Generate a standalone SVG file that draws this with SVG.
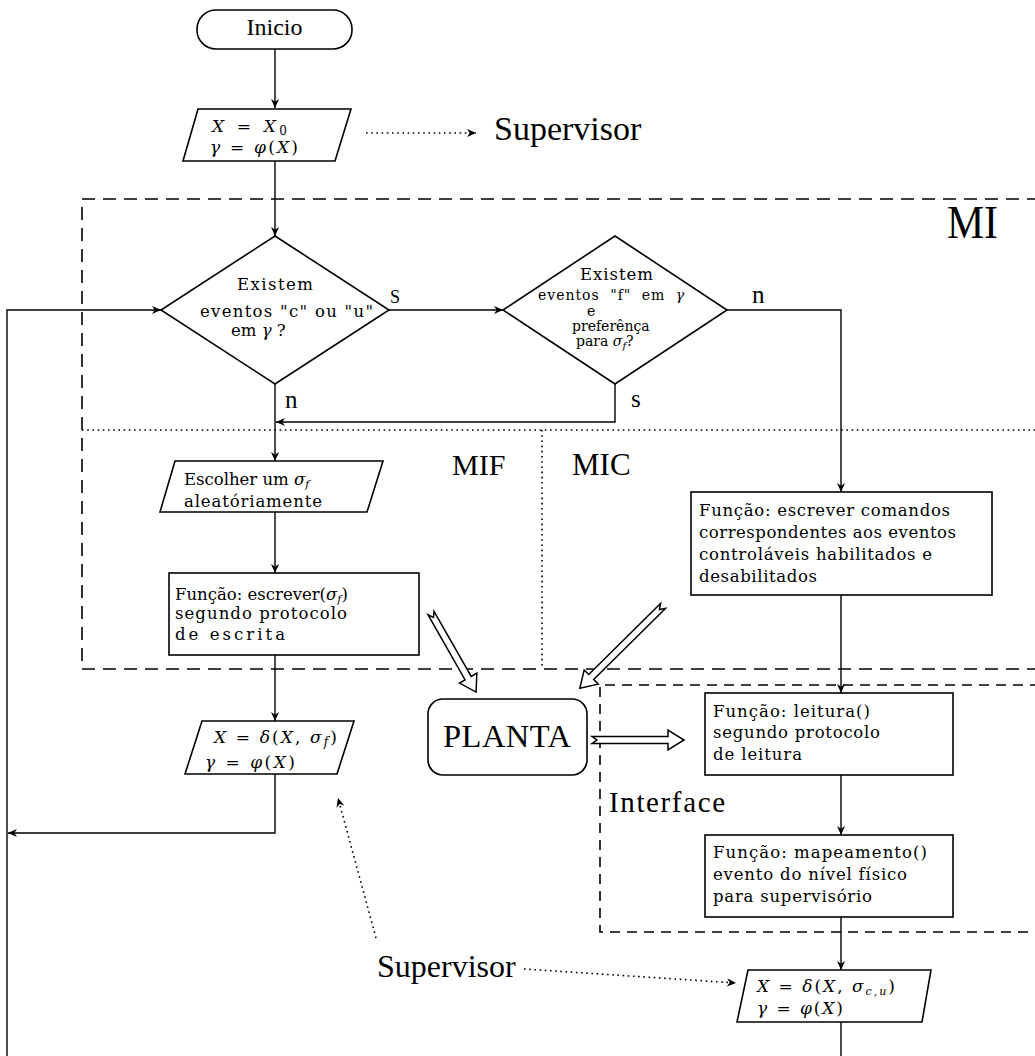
<svg xmlns="http://www.w3.org/2000/svg" width="1035" height="1056" viewBox="0 0 1035 1056">
<style>
.box{fill:#fff;stroke:#000;stroke-width:1.6}
.ln{fill:none;stroke:#000;stroke-width:1.4}
.dash{fill:none;stroke:#000;stroke-width:1.6;stroke-dasharray:13 8}
.dash2{fill:none;stroke:#000;stroke-width:1.6;stroke-dasharray:10 7}
.dot{fill:none;stroke:#000;stroke-width:1.6;stroke-dasharray:1.6 3.6}
.hol{fill:#fff;stroke:#000;stroke-width:1.5;stroke-linejoin:miter}
.t{font-family:"DejaVu Serif",serif;font-size:16.5px;fill:#000}
.ts{font-family:"DejaVu Serif",serif;font-size:14px;fill:#000}
.big{font-family:"Liberation Serif",serif;fill:#000}
.m{font-family:"DejaVu Serif",serif;font-size:17px;fill:#000}
.i{font-style:italic}
</style>
<defs>
<marker id="ah" viewBox="0 0 10 10" refX="10" refY="5" markerWidth="10" markerHeight="9" markerUnits="userSpaceOnUse" orient="auto">
<path d="M0,0.5 L10,5 L0,9.5 L3,5 z" fill="#000"/>
</marker>
</defs>

<g id="regions">
<path class="dash" d="M1040,199 H82 V669 H1040"/>
<path class="dot" d="M82,430 H1040"/>
<path class="dot" d="M542,430 V669"/>
<path class="dash2" d="M1040,685 H600 V932 H1040"/>
<text class="big" x="947" y="238" font-size="46" textLength="51" lengthAdjust="spacingAndGlyphs">MI</text>
<text class="big" x="452" y="475" font-size="30">MIF</text>
<text class="big" x="572" y="475" font-size="31">MIC</text>
<text class="big" x="609" y="812" font-size="29" textLength="116">Interface</text>
</g>

<g id="connectors">
<path class="ln" d="M275,49 V108" marker-end="url(#ah)"/>
<path class="ln" d="M275,161 V236" marker-end="url(#ah)"/>
<path class="ln" d="M7,1056 V310 H161" marker-end="url(#ah)"/>
<path class="ln" d="M389,310 H503" marker-end="url(#ah)"/>
<path class="ln" d="M727,310 H841 V492" marker-end="url(#ah)"/>
<path class="ln" d="M615,384 V422 H276" marker-end="url(#ah)"/>
<path class="ln" d="M275,384 V461" marker-end="url(#ah)"/>
<path class="ln" d="M275,512 V573" marker-end="url(#ah)"/>
<path class="ln" d="M275,655 V721" marker-end="url(#ah)"/>
<path class="ln" d="M275,774 V833 H8" marker-end="url(#ah)"/>
<path class="ln" d="M841,595 V693" marker-end="url(#ah)"/>
<path class="ln" d="M841,775 V835" marker-end="url(#ah)"/>
<path class="ln" d="M841,917 V970" marker-end="url(#ah)"/>
<path class="ln" d="M841,1022 V1056"/>
<path class="dot" d="M366,133 H476" marker-end="url(#ah)"/>
<path class="dot" d="M376,938 L338,798" marker-end="url(#ah)"/>
<path class="dot" d="M524,969 L736,983" marker-end="url(#ah)"/>
<polygon class="hol" transform="translate(431,613) rotate(60.3)" points="0,-3.5 75,-3.5 75,-10 91,0 75,10 75,3.5 0,3.5 5,0"/>
<polygon class="hol" transform="translate(663,606) rotate(135.3)" points="0,-3.5 101,-3.5 101,-10 117,0 101,10 101,3.5 0,3.5 5,0"/>
<polygon class="hol" transform="translate(592,740)" points="0,-3.5 76,-3.5 76,-10 92,0 76,10 76,3.5 0,3.5 5,0"/>
<text class="big" x="390" y="303" font-size="18">S</text>
<text class="big" x="285" y="408" font-size="25">n</text>
<text class="big" x="752" y="303" font-size="25">n</text>
<text class="big" x="631" y="407" font-size="25">s</text>
<text class="big" x="494" y="140" font-size="34">Supervisor</text>
<text class="big" x="377" y="977" font-size="32">Supervisor</text>
</g>

<g id="inicio">
<rect class="box" x="197" y="10" width="155" height="39" rx="19" ry="19"/>
<text class="big" x="274.5" y="35" font-size="24" text-anchor="middle">Inicio</text>
</g>

<g id="init">
<polygon class="box" points="198,109 351,109 335,161 183,161"/>
<text class="m" x="212" y="132" textLength="75"><tspan class="i">X</tspan> = <tspan class="i">X</tspan><tspan font-size="12" dy="3">0</tspan></text>
<text class="m" x="210" y="153" textLength="88"><tspan class="i">γ</tspan> = <tspan class="i">φ</tspan>(<tspan class="i">X</tspan>)</text>
</g>

<g id="dec1">
<polygon class="box" points="275,236 389,310 275,384 161,310"/>
<text class="t" x="237" y="290" textLength="76">Existem</text>
<text class="t" x="200" y="317" textLength="173">eventos "c" ou "u"</text>
<text class="t" x="231" y="336">em <tspan class="i">γ</tspan> ?</text>
</g>

<g id="dec2">
<polygon class="box" points="615,236 727,310 615,384 503,310"/>
<text class="t" x="580" y="280" textLength="73">Existem</text>
<text class="ts" x="538" y="300" letter-spacing="1" word-spacing="5">eventos "f" em <tspan class="i">γ</tspan></text>
<text class="ts" x="587" y="316" font-size="11">e</text>
<text class="ts" x="572" y="331" font-size="13.5">preferênça</text>
<text class="ts" x="576" y="346" font-size="13.5">para <tspan class="i">σ</tspan><tspan class="i" font-size="10" dy="3">f</tspan><tspan dy="-3">?</tspan></text>
</g>

<g id="escolher">
<polygon class="box" points="175,461 383,461 367,512 160,512"/>
<text class="t" x="184" y="485">Escolher um <tspan class="i">σ</tspan><tspan class="i" font-size="11" dy="3">f</tspan></text>
<text class="t" x="184" y="507" textLength="138">aleatóriamente</text>
</g>

<g id="escrever">
<rect class="box" x="169" y="573" width="250" height="82"/>
<text class="t" x="175" y="600">Função: escrever(<tspan class="i">σ</tspan><tspan class="i" font-size="11" dy="3">f</tspan><tspan dy="-3">)</tspan></text>
<text class="t" x="175" y="619" textLength="172">segundo protocolo</text>
<text class="t" x="175" y="640" textLength="110">de escrita</text>
</g>

<g id="transf">
<polygon class="box" points="202,721 354,721 337,774 185,774"/>
<text class="m" x="214" y="743" textLength="123"><tspan class="i">X</tspan> = <tspan class="i">δ</tspan>(<tspan class="i">X</tspan>, <tspan class="i">σ</tspan><tspan class="i" font-size="12" dy="3">f</tspan><tspan dy="-3">)</tspan></text>
<text class="m" x="205" y="768" textLength="90"><tspan class="i">γ</tspan> = <tspan class="i">φ</tspan>(<tspan class="i">X</tspan>)</text>
</g>

<g id="planta">
<rect class="box" x="428" y="699" width="159" height="76" rx="15" ry="15"/>
<text class="big" x="443" y="747" font-size="32.5" textLength="128">PLANTA</text>
</g>

<g id="comandos">
<rect class="box" x="691" y="492" width="301" height="103"/>
<text class="t" x="699" y="516" textLength="251">Função: escrever comandos</text>
<text class="t" x="699" y="538" textLength="257">correspondentes aos eventos</text>
<text class="t" x="699" y="560" textLength="233">controláveis habilitados e</text>
<text class="t" x="699" y="582" textLength="118">desabilitados</text>
</g>

<g id="leitura">
<rect class="box" x="705" y="693" width="248" height="82"/>
<text class="t" x="713" y="717" textLength="157">Função: leitura()</text>
<text class="t" x="713" y="738" textLength="167">segundo protocolo</text>
<text class="t" x="713" y="760" textLength="89">de leitura</text>
</g>

<g id="mapeamento">
<rect class="box" x="705" y="835" width="248" height="82"/>
<text class="t" x="713" y="858" textLength="214">Função: mapeamento()</text>
<text class="t" x="713" y="880" textLength="194">evento do nível físico</text>
<text class="t" x="713" y="902" textLength="159">para supervisório</text>
</g>

<g id="transf2">
<polygon class="box" points="748,970 931,970 922,1022 737,1022"/>
<text class="m" x="757" y="992" textLength="138"><tspan class="i">X</tspan> = <tspan class="i">δ</tspan>(<tspan class="i">X</tspan>, <tspan class="i">σ</tspan><tspan class="i" font-size="11" dy="3">c,u</tspan><tspan dy="-3">)</tspan></text>
<text class="m" x="757" y="1014" textLength="86"><tspan class="i">γ</tspan> = <tspan class="i">φ</tspan>(<tspan class="i">X</tspan>)</text>
</g>
</svg>
